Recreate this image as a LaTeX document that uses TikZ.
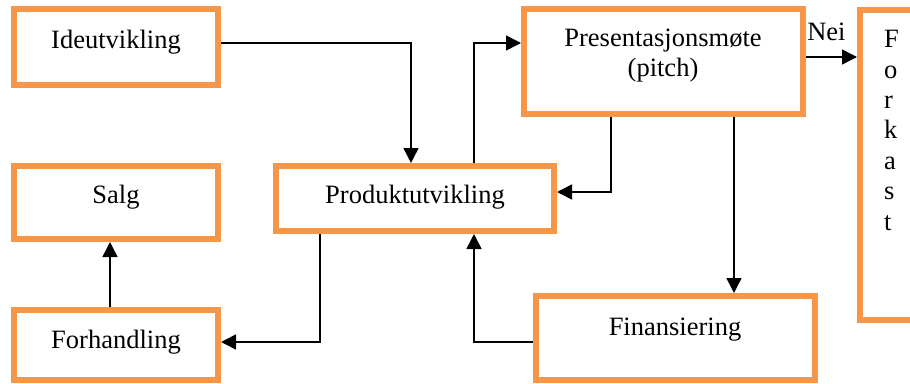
\documentclass[tikz,border=0pt]{standalone}
\usepackage{fontspec}
\setmainfont{Liberation Serif}
\usetikzlibrary{arrows.meta}
\definecolor{boxorange}{RGB}{247,150,70}
\begin{document}
\begin{tikzpicture}[x=1pt,y=-1pt,
  box/.style={draw=boxorange, line width=6pt, rectangle, inner sep=0pt, fill=white},
  txt/.style={font=\fontsize{26.5}{29.5}\selectfont, inner sep=0pt},
  arr/.style={line width=1.5pt, -{Triangle[length=15pt,width=15pt]}}]
\useasboundingbox (0,0) rectangle (910,383);
\clip (0,0) rectangle (910,383);
\fill[white] (0,0) rectangle (910,383);
% boxes
\node[box, minimum width=204pt, minimum height=76pt] (ide) at (116,47) {};
\node[box, minimum width=204pt, minimum height=73pt] (salg) at (116,202.5) {};
\node[box, minimum width=204pt, minimum height=70pt] (forh) at (116,345) {};
\node[box, minimum width=278pt, minimum height=65pt] (prod) at (415,198.5) {};
\node[box, minimum width=279pt, minimum height=105pt] (pres) at (663.5,61.5) {};
\node[box, minimum width=100pt, minimum height=310pt] (fork) at (910,165) {};
\node[box, minimum width=279pt, minimum height=84pt] (fin) at (675.5,338) {};
% texts
\node[txt, anchor=base] (idet) at (116,48) {Ideutvikling};
\node[txt, anchor=base] (salgt) at (116,203) {Salg};
\node[txt, anchor=base] (forht) at (116,348) {Forhandling};
\node[txt, anchor=base] (prodt) at (415,203) {Produktutvikling};
\node[txt, anchor=base, align=center] (prest) at (663,76) {Presentasjonsmøte\\(pitch)};
\node[txt, anchor=base west, align=left, font=\fontsize{26.5}{30.4}\selectfont] (forkt) at (884,230) {F\\o\\r\\k\\a\\s\\t};
\node[txt, anchor=base] (fint) at (675,335) {Finansiering};
% connectors
\draw[arr] ([yshift=4pt]ide.east) -| ([xshift=-4pt]prod.north);
\draw[arr] ([xshift=59pt]prod.north) |- ([yshift=18.5pt]pres.west);
\draw[arr] ([xshift=-52.5pt]pres.south) |- ([yshift=6.5pt]prod.east);
\draw[arr] ([xshift=70.5pt]pres.south) -- ([xshift=70.5pt]pres.south |- fin.north);
\draw[arr] ([yshift=4.5pt]pres.east) coordinate (p5) -- (p5 -| fork.west)
  node[txt, pos=0.4, anchor=base, yshift=17pt] (nei) {Nei};
\draw[arr] ([xshift=-95pt]prod.south) |- ([yshift=3pt]forh.east);
\draw[arr] ([xshift=-6pt]forh.north) -- ([xshift=-6pt]salg.south);
\draw[arr] ([yshift=-4pt]fin.west) -| ([xshift=59pt]prod.south);
\end{tikzpicture}
\end{document}
